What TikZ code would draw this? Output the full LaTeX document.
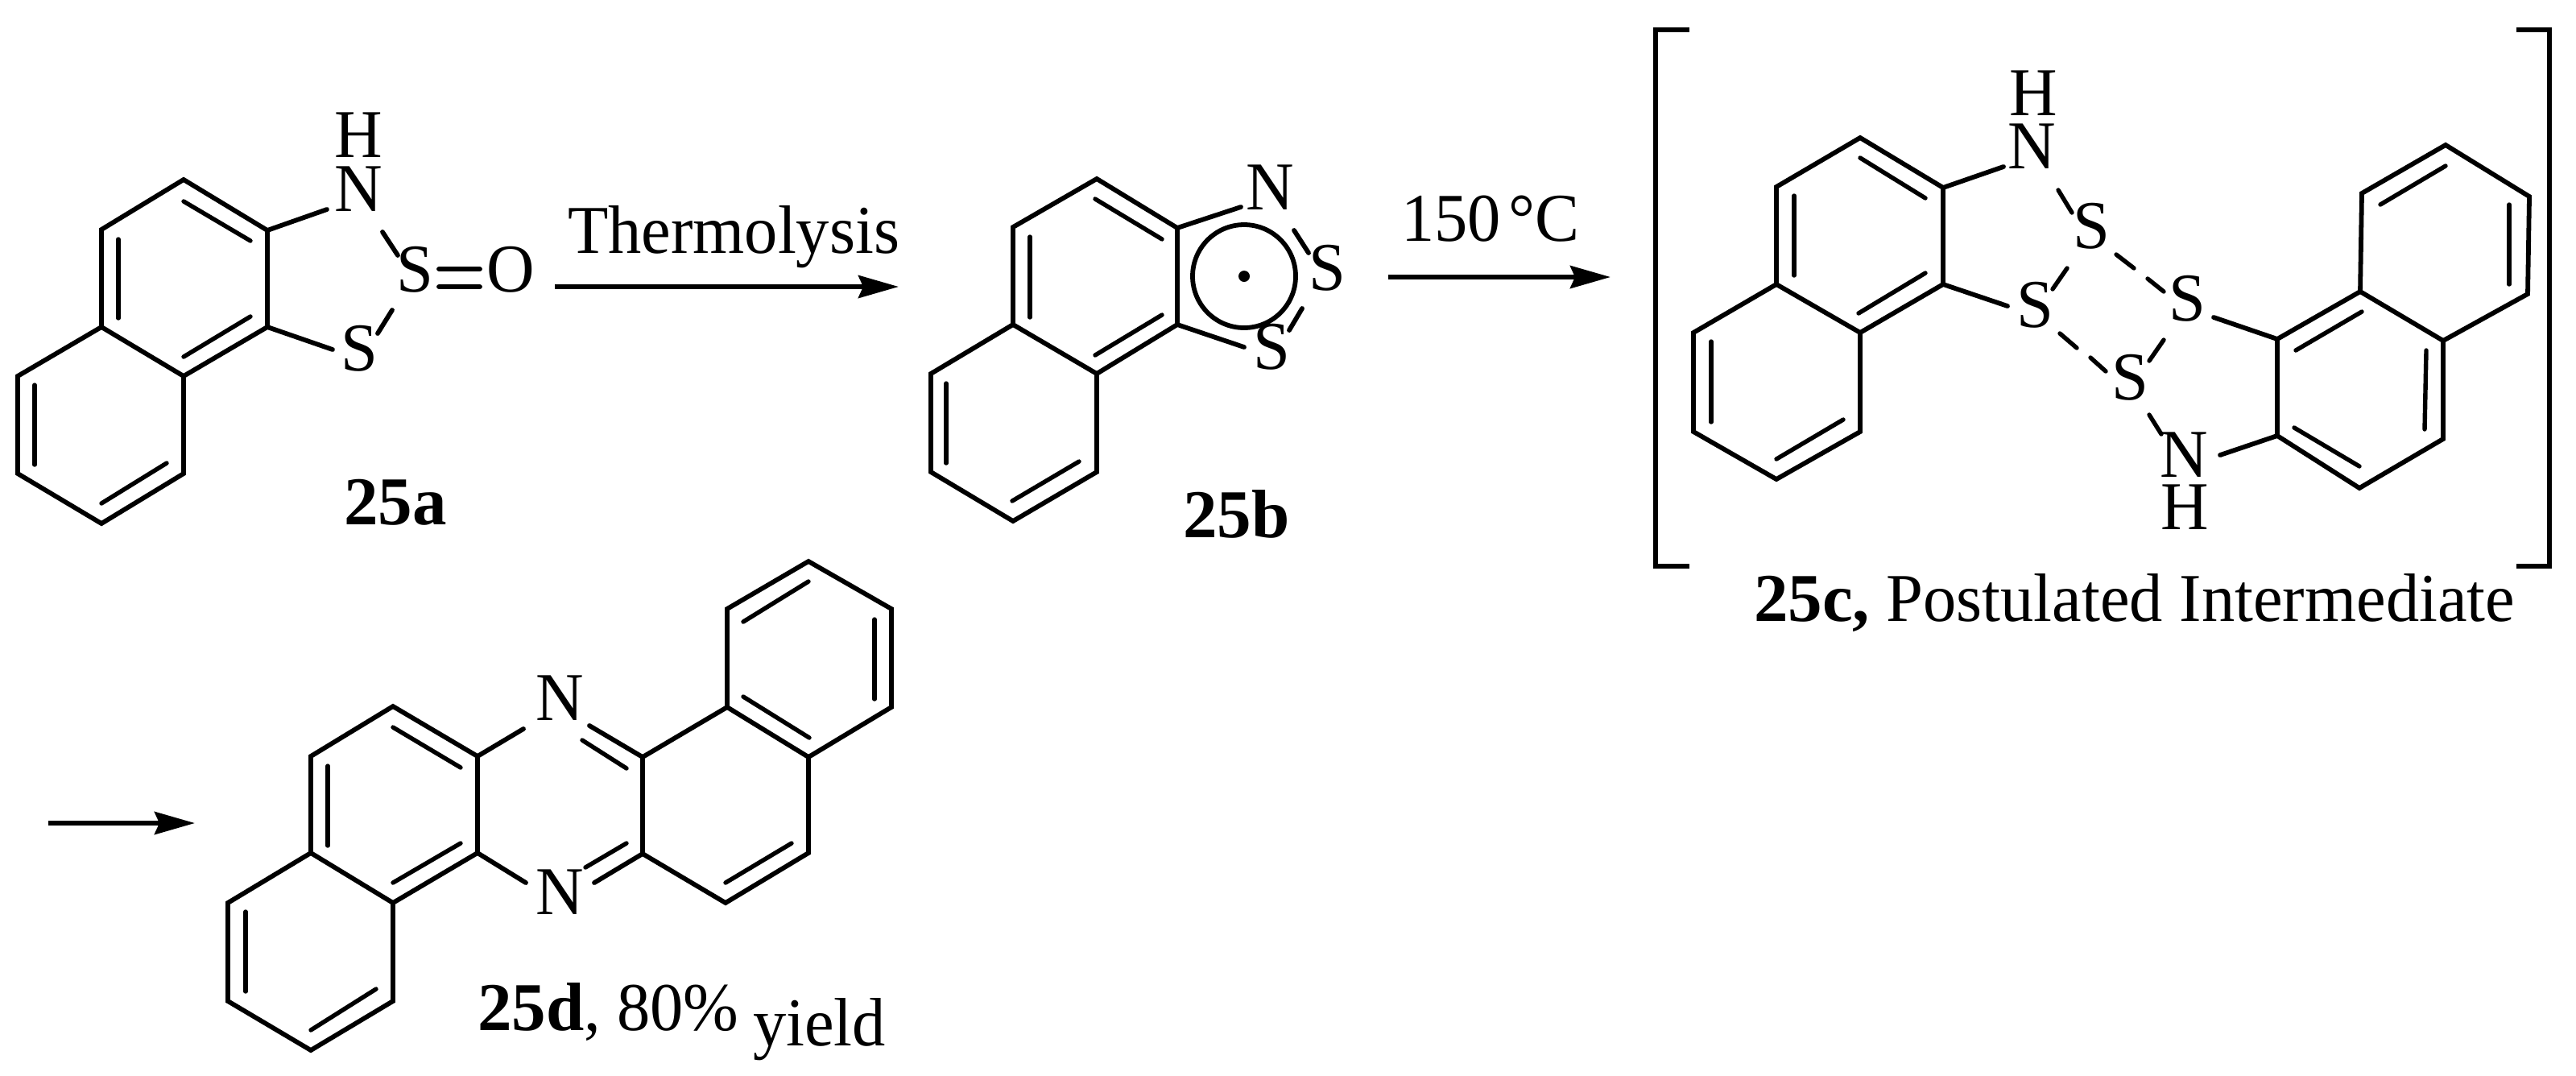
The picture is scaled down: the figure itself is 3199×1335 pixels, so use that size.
\documentclass[tikz,border=0pt]{standalone}
\usepackage{fontspec}
\setmainfont[FakeStretch=0.97,BoldFeatures={FakeStretch=1.0}]{Liberation Serif}
\usetikzlibrary{arrows.meta}
\tikzset{
  bond/.style={line width=2.9pt,line cap=round,line join=miter,black},
  inner/.style={line width=2.7pt,line cap=round,black},
  rxn/.style={line width=3pt,black,-{Stealth[length=25pt,width=14pt,inset=3pt]}},
  bracket/.style={line width=3.2pt,line join=miter,black},
  atom/.style={inner sep=0pt,outer sep=0pt,font=\fontsize{42.5}{50}\selectfont},
  lab/.style={inner sep=0pt,outer sep=0pt,anchor=base west,font=\fontsize{42.5}{50}\selectfont},
}
\begin{document}
\begin{tikzpicture}[x=0.5pt,y=-0.5pt]
\useasboundingbox (0,0) rectangle (3199,1335);
\fill[white] (0,0) rectangle (3199,1335);
% coordinates
\foreach \n/\x/\y in {
 a1/228/223,a2/332/286,a3/332/406,a4/228/467,a5/126/406,a6/126/285,a7/228/588,a8/126/650,a9/22/588,a10/22/467,
 aN/406/260,aS/413/434,aNa/475/288,aNb/494/317,aSa/487/385,aSb/469/414,aDa/545/334,aDb/596/334,aEa/545/356,aEb/596/356,
 b1/1362/222,b2/1462/283,b3/1462/403,b4/1362/464,b5/1258/403,b6/1258/282,b7/1362/586,b8/1258/647,b9/1156/586,b10/1156/464,
 bN/1541/257,bS/1545/431,bNa/1607/286,bNb/1625/314,bSa/1617/383,bSb/1601/410,bC/1545/343,
 c1/2310/171,c2/2413/233,c3/2413/353,c4/2310/413,c5/2206/353,c6/2206/232,c7/2310/536,c8/2206/595,c9/2103/536,c10/2103/413,
 cN/2488/207,cS/2493/380,
 d1/2828/421,d2/2931/362,d3/3034/423,d4/3139/365,d5/3141/244,d6/3037/180,d7/2933/240,d8/3034/545,d9/2930/606,d10/2828/541,
 dS/2749/394,dN/2757/565,
 e1/488/877,e2/593/939,e3/593/1059,e4/488/1121,e5/386/1059,e6/386/939,e7/488/1243,e8/386/1304,e9/283/1243,e10/283/1121,
 eN/650/905,eM/653/1096,
 f1/798/940,f2/798/1060,f3/901/1121,f4/1004/1059,f5/1004/940,f6/903/878,f7/903/756,f8/1004/697,f9/1107/756,f10/1107/878,
 fN/732/901,fM/738/1096,
 r1a/689/356,r1b/1116/356,r2a/1724/344,r2b/2000/344,r3a/60/1022,r3b/242/1022}
 {\coordinate (\n) at (\x,\y);}
% 25a
\draw[bond] (a1)--(a2)--(a3)--(a4)--(a5)--(a6)--cycle;
\draw[bond] (a5)--(a10)--(a9)--(a8)--(a7)--(a4);
\draw[bond] (a2)--(aN) (a3)--(aS) (aNa)--(aNb) (aSa)--(aSb) (aDa)--(aDb) (aEa)--(aEb);
\foreach \p/\q/\r/\s in {228/250/311/299,147/297/147/395,311/393/228/443,43/478/43/577,207/575/126/625}
 \draw[inner] (\p,\q)--(\r,\s);
\node[atom] (aH1) at (445,168) {H};
\node[atom] (aN1) at (445,235) {N};
\node[atom] (aS1) at (515,335) {S};
\node[atom] (aO1) at (634,335) {O};
\node[atom] (aS2) at (446,433) {S};
\node[lab] (la) at (427,651) {\textbf{25a}};
% arrow 1
\draw[rxn] (r1a)--(r1b);
\node[lab] (th) at (705,314) {Thermolysis};
% 25b
\draw[bond] (b1)--(b2)--(b3)--(b4)--(b5)--(b6)--cycle;
\draw[bond] (b5)--(b10)--(b9)--(b8)--(b7)--(b4);
\draw[bond] (b2)--(bN) (b3)--(bS) (bNa)--(bNb) (bSa)--(bSb);
\foreach \p/\q/\r/\s in {1360/247/1443/297,1279/294/1279/394,1443/391/1360/441,1175/476/1175/575,1340/573/1257/622}
 \draw[inner] (\p,\q)--(\r,\s);
\draw[bond] (bC) circle[radius=64];
\fill (bC) circle[radius=7];
\node[atom] (bN1) at (1577,233) {N};
\node[atom] (bS1) at (1648,333) {S};
\node[atom] (bS2) at (1579,431) {S};
\node[lab] (lb) at (1469,667) {\textbf{25b}};
% arrow 2
\draw[rxn] (r2a)--(r2b);
\node[lab] (tc) at (1740,299) {\spaceskip=5pt 150 °C};
% brackets
\draw[bracket] (2098,37)--(2056,37)--(2056,703)--(2098,703);
\draw[bracket] (3125,37)--(3166,37)--(3166,703)--(3125,703);
% 25c
\draw[bond] (c1)--(c2)--(c3)--(c4)--(c5)--(c6)--cycle;
\draw[bond] (c5)--(c10)--(c9)--(c8)--(c7)--(c4);
\draw[bond] (c2)--(cN) (c3)--(cS);
\foreach \p/\q/\r/\s in {2310/196/2391/246,2228/243/2228/342,2391/339/2308/389,2125/424/2125/524,2289/521/2206/570}
 \draw[inner] (\p,\q)--(\r,\s);
\draw[bond] (d1)--(d2)--(d3)--(d8)--(d9)--(d10)--cycle;
\draw[bond] (d2)--(d7)--(d6)--(d5)--(d4)--(d3);
\draw[bond] (d1)--(dS) (d10)--(dN);
\foreach \p/\q/\r/\s in {2851/435/2933/387,3013/435/3011/533,2930/579/2849/531,3116/254/3116/353,3037/206/2956/254}
 \draw[inner] (\p,\q)--(\r,\s);
% S--S and N--S bonds of the ring
\foreach \p/\q/\r/\s in {2556/236/2573/264,2567/333/2549/359,2628/316/2650/333,2667/346/2687/362,
  2558/414/2579/432,2596/444/2615/461,2687/422/2669/448,2669/515/2684/539}
 \draw[inner] (\p,\q)--(\r,\s);
\node[atom] (cH1) at (2525,116) {H};
\node[atom] (cN1) at (2523,182) {N};
\node[atom] (cS1) at (2597,281) {S};
\node[atom] (cS2) at (2527,379) {S};
\node[atom] (cS3) at (2716,371) {S};
\node[atom] (cS4) at (2645,469) {S};
\node[atom] (cN2) at (2712,565) {N};
\node[atom] (cH2) at (2713,630) {H};
\node[lab] (lc) at (2178,771) {\textbf{25c,} Postulated Intermediate};
% arrow 3
\draw[rxn] (r3a)--(r3b);
% 25d
\draw[bond] (e1)--(e2)--(e3)--(e4)--(e5)--(e6)--cycle;
\draw[bond] (e5)--(e10)--(e9)--(e8)--(e7)--(e4);
\draw[bond] (e2)--(eN) (e3)--(eM);
\foreach \p/\q/\r/\s in {488/903/572/953,407/951/407/1050,572/1047/488/1096,305/1132/305/1231,467/1228/386/1279}
 \draw[inner] (\p,\q)--(\r,\s);
\draw[bond] (f6)--(f1)--(f2)--(f3)--(f4)--(f5)--cycle;
\draw[bond] (f6)--(f7)--(f8)--(f9)--(f10)--(f5);
\draw[bond] (fN)--(f1) (fM)--(f2);
\foreach \p/\q/\r/\s in {723/919/778/954,727/1077/778/1047,901/1096/983/1047,923/865/1005/916,1086/769/1086/868,1004/722/923/772}
 \draw[inner] (\p,\q)--(\r,\s);
\node[atom] (dN1) at (695,867) {N};
\node[atom] (dN2) at (695,1108) {N};
\node[lab] (ld) at (593,1279) {\textbf{25d}, 80\%};
\node[lab] (ly) at (935,1298) {yield};
\end{tikzpicture}
\end{document}
